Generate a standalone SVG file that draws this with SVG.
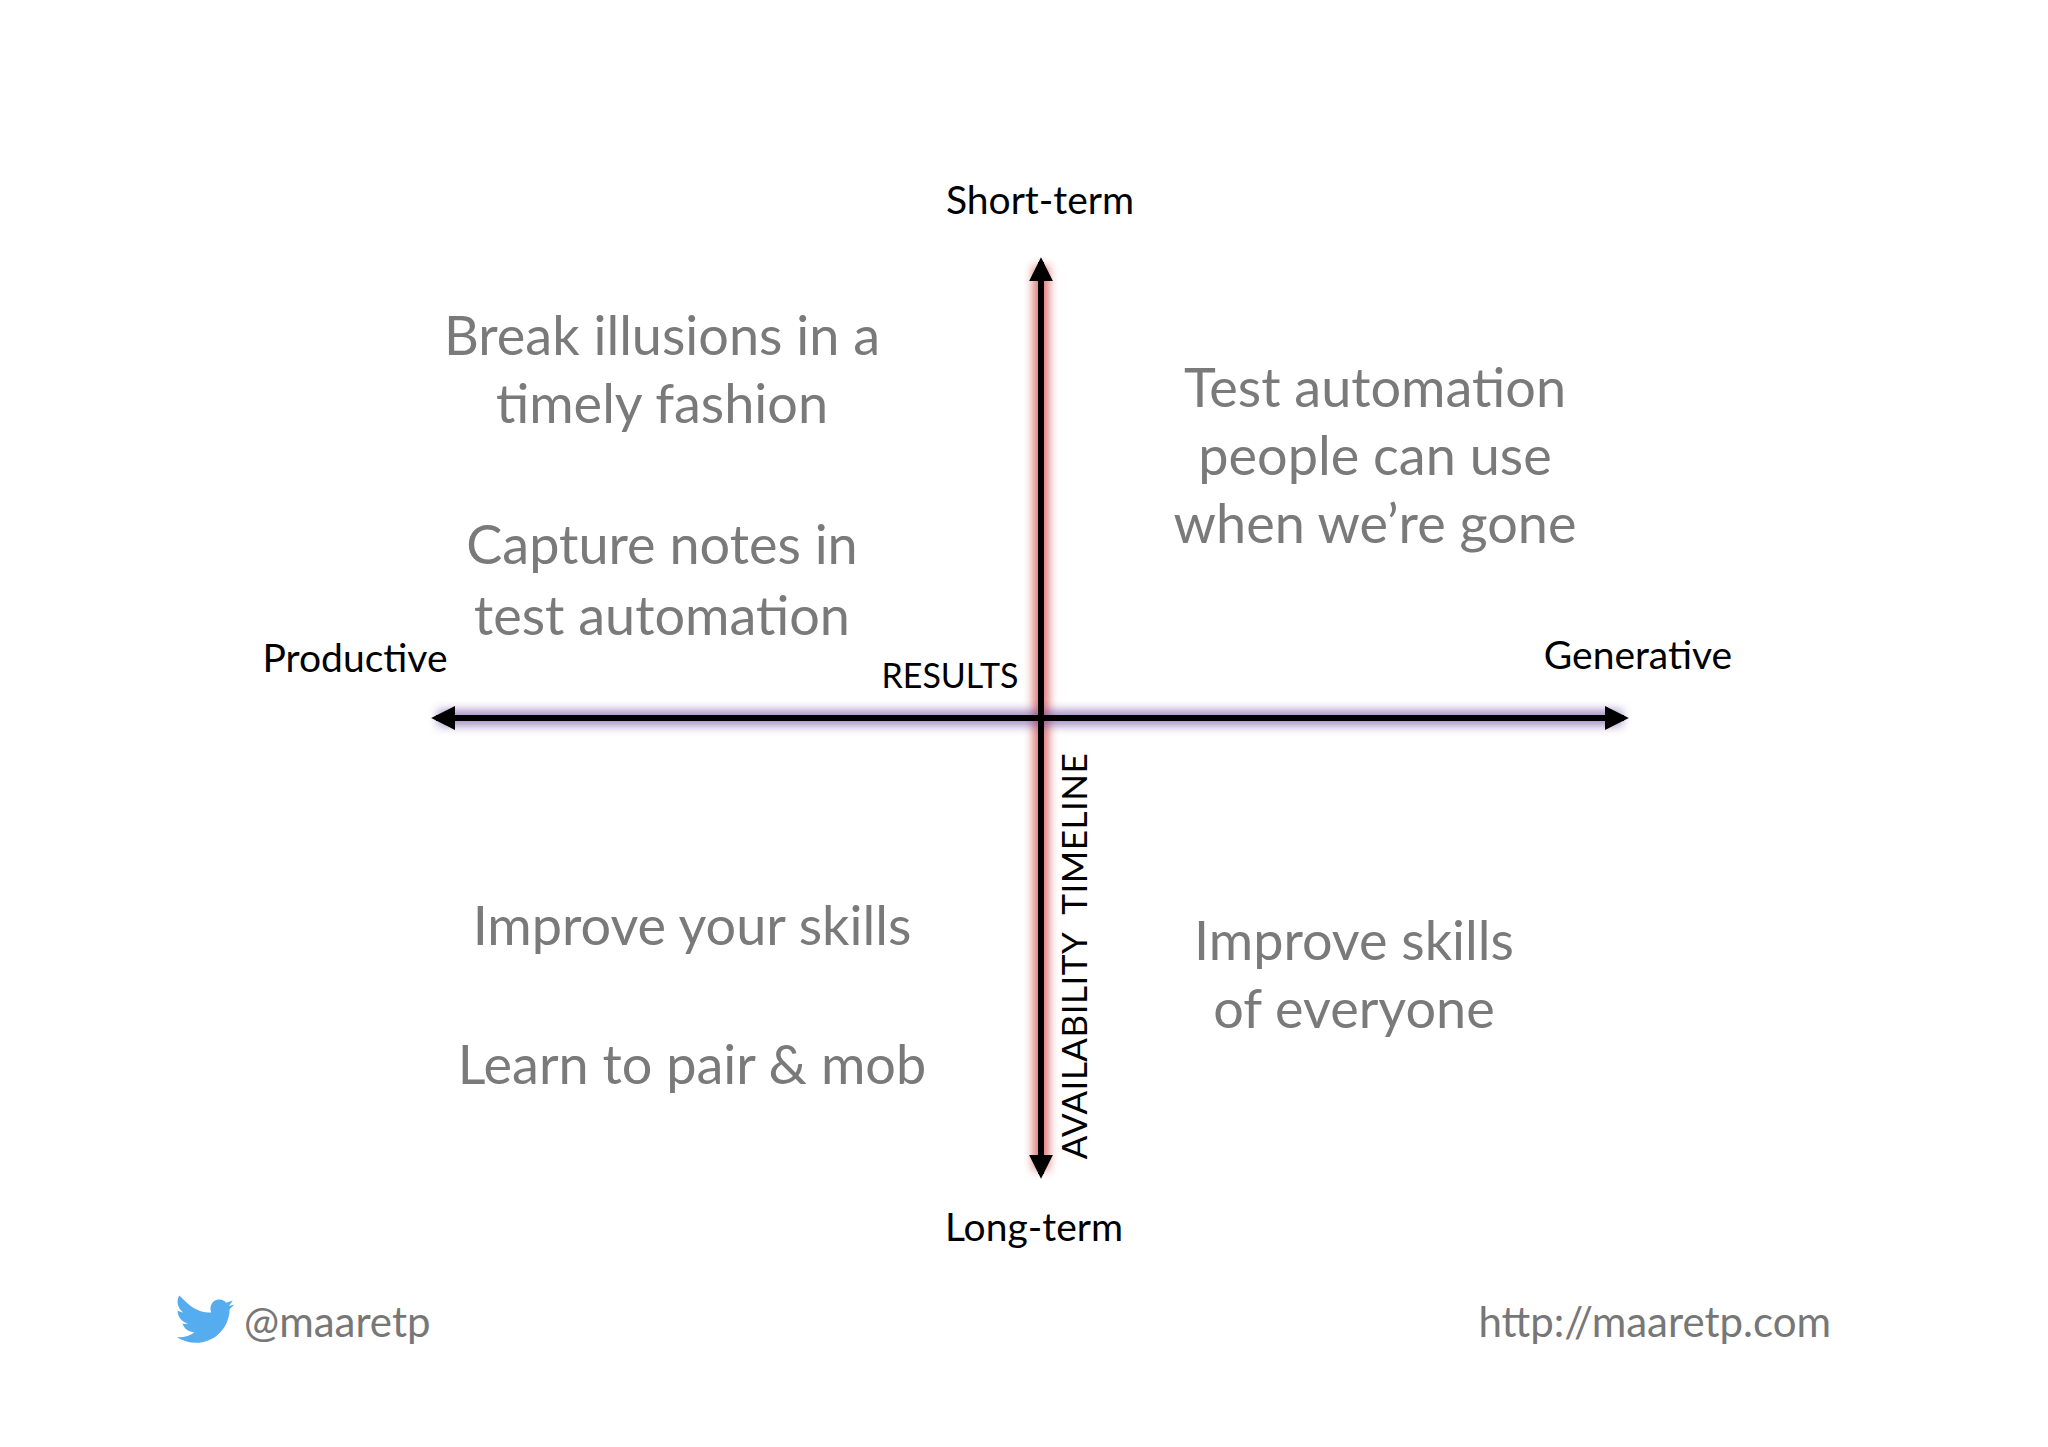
<svg xmlns="http://www.w3.org/2000/svg" width="2048" height="1447" viewBox="0 0 2048 1447">
<defs>
<filter id="blur" filterUnits="userSpaceOnUse" x="0" y="0" width="2048" height="1447"><feGaussianBlur stdDeviation="5"/></filter>
<marker id="ah" viewBox="0 0 10 10" refX="8" refY="5" markerWidth="4" markerHeight="4" orient="auto-start-reverse"><path d="M0,0 L10,5 L0,10 Z" fill="#000"/></marker>
</defs>
<style>
.lbl{font-family:"Lato","Open Sans",sans-serif;fill:#000;font-size:39px;text-anchor:middle}
.q{font-family:"Lato","Open Sans",sans-serif;fill:#7a7a7a;font-size:54px;text-anchor:middle}
.ft{font-family:"Lato","Open Sans",sans-serif;fill:#777;font-size:42px}
</style>
<rect width="2048" height="1447" fill="#fff"/>
<g id="connectors">
<line x1="1041" y1="266" x2="1041" y2="1170" stroke="#d04040" stroke-width="16" opacity="0.7" filter="url(#blur)"/>
<line x1="438" y1="718" x2="1622" y2="718" stroke="#6a4aa0" stroke-width="16" opacity="0.6" filter="url(#blur)"/>
<line x1="1041" y1="1174" x2="1041" y2="262" stroke="#000" stroke-width="6" marker-start="url(#ah)" marker-end="url(#ah)"/>
<line x1="436" y1="718" x2="1624" y2="718" stroke="#000" stroke-width="6" marker-start="url(#ah)" marker-end="url(#ah)"/>
</g>
<g id="labels">
<text class="lbl" x="1040" y="214">Short-term</text>
<text class="lbl" x="1034" y="1241">Long-term</text>
<text class="lbl" x="355" y="672">Productive</text>
<text class="lbl" x="1638" y="669">Generative</text>
<text class="lbl" x="950" y="688" style="font-size:34px">RESULTS</text>
<text class="lbl" transform="translate(1087,956) rotate(-90)" style="font-size:35px;letter-spacing:0.5px;word-spacing:10px">AVAILABILITY TIMELINE</text>
</g>
<g id="q1"><text class="q" x="662" y="355">Break illusions in a</text><text class="q" x="662" y="423">timely fashion</text>
<text class="q" x="662" y="564">Capture notes in</text><text class="q" x="662" y="635">test automation</text></g>
<g id="q2"><text class="q" x="1375" y="407">Test automation</text><text class="q" x="1375" y="475">people can use</text><text class="q" x="1375" y="543">when we’re gone</text></g>
<g id="q3"><text class="q" x="692" y="945">Improve your skills</text><text class="q" x="692" y="1084">Learn to pair &amp; mob</text></g>
<g id="q4"><text class="q" x="1354" y="960">Improve skills</text><text class="q" x="1354" y="1028">of everyone</text></g>
<g id="footer">
<path transform="translate(48,258) scale(0.8)" d="M176,1308 c10,8 18,10 28,10 c-3,-8 2,-16 10,-16 c4,0 7,2 9,4 l8,-3 l-5,7 l7,-2 l-6,6 c0,20 -16,42 -42,42 c-9,0 -17,-3 -24,-7 c8,1 16,-2 22,-6 c-7,0 -13,-5 -15,-11 c3,1 5,0 7,0 c-8,-2 -13,-9 -13,-16 c2,1 5,2 7,2 c-7,-5 -9,-14 -5,-21 z" fill="#55acee"/>
<text class="ft" x="244" y="1337">@maaretp</text>
<text class="ft" x="1831" y="1337" text-anchor="end">http://maaretp.com</text>
</g>
</svg>
